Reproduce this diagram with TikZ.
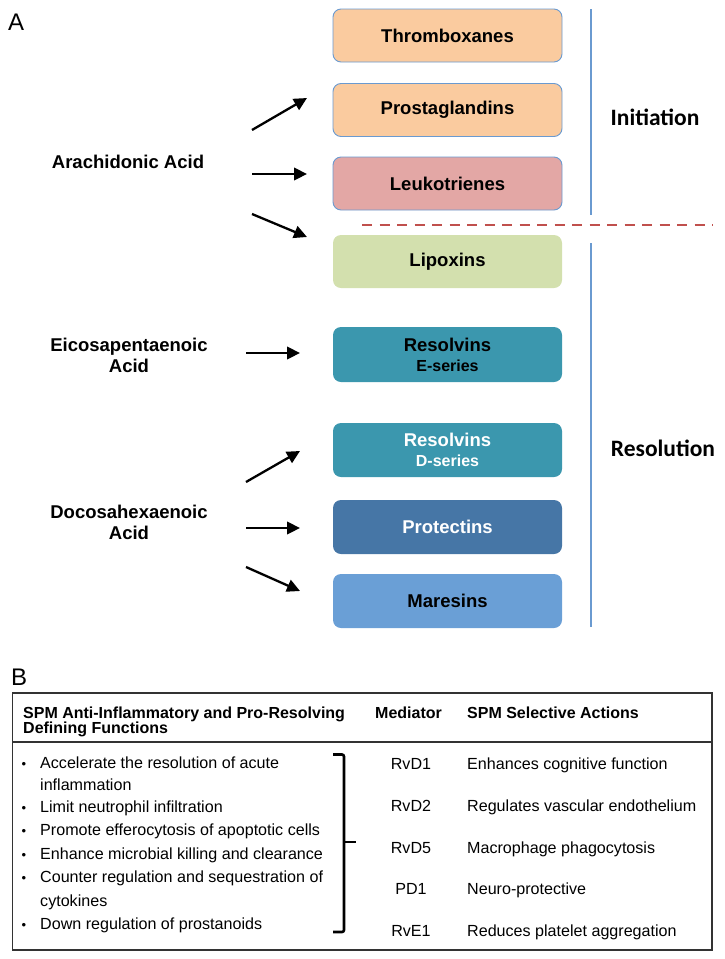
\documentclass[tikz,border=0pt]{standalone}
\usepackage{fontspec}
\setmainfont{Liberation Sans}
\newfontfamily\calibfont{Carlito}
\usetikzlibrary{arrows.meta}
\definecolor{peach}{HTML}{FACB9F}
\definecolor{leuko}{HTML}{E3A7A5}
\definecolor{lipox}{HTML}{D3E0AE}
\definecolor{tealbox}{HTML}{3B97AE}
\definecolor{protc}{HTML}{4676A6}
\definecolor{maresc}{HTML}{6A9FD6}
\definecolor{lineblue}{HTML}{6A9AD0}
\definecolor{dashred}{HTML}{C0504D}
\definecolor{tabline}{HTML}{333333}
\begin{document}
\begin{tikzpicture}[x=1pt,y=-1pt,
 box/.style={rounded corners=8pt, minimum width=229pt, minimum height=53pt, inner sep=0pt,
   font=\bfseries\fontsize{18.5}{21}\selectfont, align=center},
 bordered/.style={draw=lineblue, line width=0.9pt},
 arr/.style={line width=2.3pt, -{Triangle[length=13pt,width=12.5pt]}},
 acid/.style={font=\bfseries\fontsize{18.5}{21}\selectfont, align=center, inner sep=0pt},
 phase/.style={font=\calibfont\bfseries\fontsize{23.5}{26}\selectfont, inner sep=0pt},
 vline/.style={draw=lineblue, line width=2.3pt},
 tab/.style={font=\fontsize{16.1}{19}\selectfont, inner sep=0pt, anchor=base west},
 bul/.style={font=\fontsize{13}{16}\selectfont, inner sep=0pt, anchor=base},
 tabh/.style={font=\bfseries\fontsize{16}{19}\selectfont, inner sep=0pt, anchor=base west},
 med/.style={font=\fontsize{16.1}{19}\selectfont, inner sep=0pt, anchor=base},
 panel/.style={font=\fontsize{24}{28}\selectfont, inner sep=0pt, anchor=base west},
]
\useasboundingbox (0,0) rectangle (724,959);

% panel labels
\node[panel] (labA) at (8,30) {A};
\node[panel] (labB) at (11,685) {B};

% boxes
\node[box, bordered, fill=peach] (tx) at (447.5,35.5) {Thromboxanes};
\node[box, bordered, fill=peach] (pg) at (447.5,110) {Prostaglandins};
\node[box, bordered, fill=leuko] (lt) at (447.5,183.5) {Leukotrienes};
\node[box, fill=lipox] (lx) at (447.5,261.5) {Lipoxins};
\node[box, fill=tealbox, minimum height=55pt] (rve) at (447.5,354.5) {Resolvins\\[-1pt]{\fontsize{16}{19}\selectfont E-series}};
\node[box, fill=tealbox, minimum height=54pt, text=white] (rvd) at (447.5,450) {Resolvins\\[-1pt]{\fontsize{16}{19}\selectfont D-series}};
\node[box, fill=protc, minimum height=54pt, text=white] (pd) at (447.5,527) {Protectins};
\node[box, fill=maresc, minimum height=54pt] (mar) at (447.5,601) {Maresins};

% phase lines
\coordinate (i1) at (591,9);
\coordinate (i2) at (591,215);
\coordinate (r1) at (591,243);
\coordinate (r2) at (591,627);
\draw[vline] (i1) -- (i2);
\draw[vline] (r1) -- (r2);
\coordinate (d1) at (362,225);
\coordinate (d2) at (713,225);
\draw[dashred, line width=2.6pt, dash pattern=on 10pt off 7.5pt] (d1) -- (d2);
\node[phase] (init) at (655,117) {Initiation};
\node[phase] (reso) at (663,448) {Resolution};

% acids
\node[acid] (aa) at (128,162) {Arachidonic Acid};
\node[acid] (epa) at (129,355.5) {Eicosapentaenoic\\Acid};
\node[acid] (dha) at (129,522.5) {Docosahexaenoic\\Acid};

% arrows
\coordinate (a1s) at (252,130); \coordinate (a1e) at (307,98);
\coordinate (a2s) at (252,174); \coordinate (a2e) at (307,174);
\coordinate (a3s) at (252,214); \coordinate (a3e) at (307,237);
\coordinate (e1s) at (246,353); \coordinate (e1e) at (300,353);
\coordinate (h1s) at (246,482); \coordinate (h1e) at (300,451);
\coordinate (h2s) at (246,528); \coordinate (h2e) at (300,528);
\coordinate (h3s) at (246,567); \coordinate (h3e) at (300,591);
\draw[arr] (a1s) -- (a1e);
\draw[arr] (a2s) -- (a2e);
\draw[arr] (a3s) -- (a3e);
\draw[arr] (e1s) -- (e1e);
\draw[arr] (h1s) -- (h1e);
\draw[arr] (h2s) -- (h2e);
\draw[arr] (h3s) -- (h3e);

% table
\coordinate (t1) at (12.5,693);
\coordinate (t2) at (712,950);
\draw[tabline, line width=1.4pt] (t1) rectangle (t2);
\coordinate (s1) at (12.5,742);
\coordinate (s2) at (712,742);
\draw[tabline, line width=1.4pt] (s1) -- (s2);

\node[tabh] (h1) at (23,718) {SPM Anti-Inflammatory and Pro-Resolving};
\node[tabh] (h2) at (23,733.5) {Defining Functions};
\node[tabh] (h3) at (375,718) {Mediator};
\node[tabh] (h4) at (467,718) {SPM Selective Actions};

\foreach \y/\t [count=\i] in {768/Accelerate the resolution of acute,
  812/Limit neutrophil infiltration,
  835.5/Promote efferocytosis of apoptotic cells,
  859/Enhance microbial killing and clearance,
  882.5/Counter regulation and sequestration of,
  929/Down regulation of prostanoids}{
  \node[bul] (bul\i) at (24,\y) {\textbullet};
  \node[tab] (f\i) at (40,\y) {\t};
}
\node[tab] (f1b) at (40,790) {inflammation};
\node[tab] (f5b) at (40,906) {cytokines};

% bracket
\coordinate (b1) at (333,754.5);
\coordinate (b2) at (344,754.5);
\coordinate (b3) at (344,932);
\coordinate (b4) at (333,932);
\coordinate (bm) at (344,842);
\coordinate (bt) at (356,842);
\draw[line width=2.6pt, rounded corners=2pt] (b1) -- (b2) -- (b3) -- (b4);
\draw[line width=2.6pt] (bm) -- (bt);

\node[med] (m1) at (411,769) {RvD1};
\node[med] (m2) at (411,811.5) {RvD2};
\node[med] (m3) at (411,853) {RvD5};
\node[med] (m4) at (411,894.5) {PD1};
\node[med] (m5) at (411,936) {RvE1};
\node[tab] (x1) at (467,769) {Enhances cognitive function};
\node[tab] (x2) at (467,811.5) {Regulates vascular endothelium};
\node[tab] (x3) at (467,853) {Macrophage phagocytosis};
\node[tab] (x4) at (467,894.5) {Neuro-protective};
\node[tab] (x5) at (467,936) {Reduces platelet aggregation};
\end{tikzpicture}
\end{document}
